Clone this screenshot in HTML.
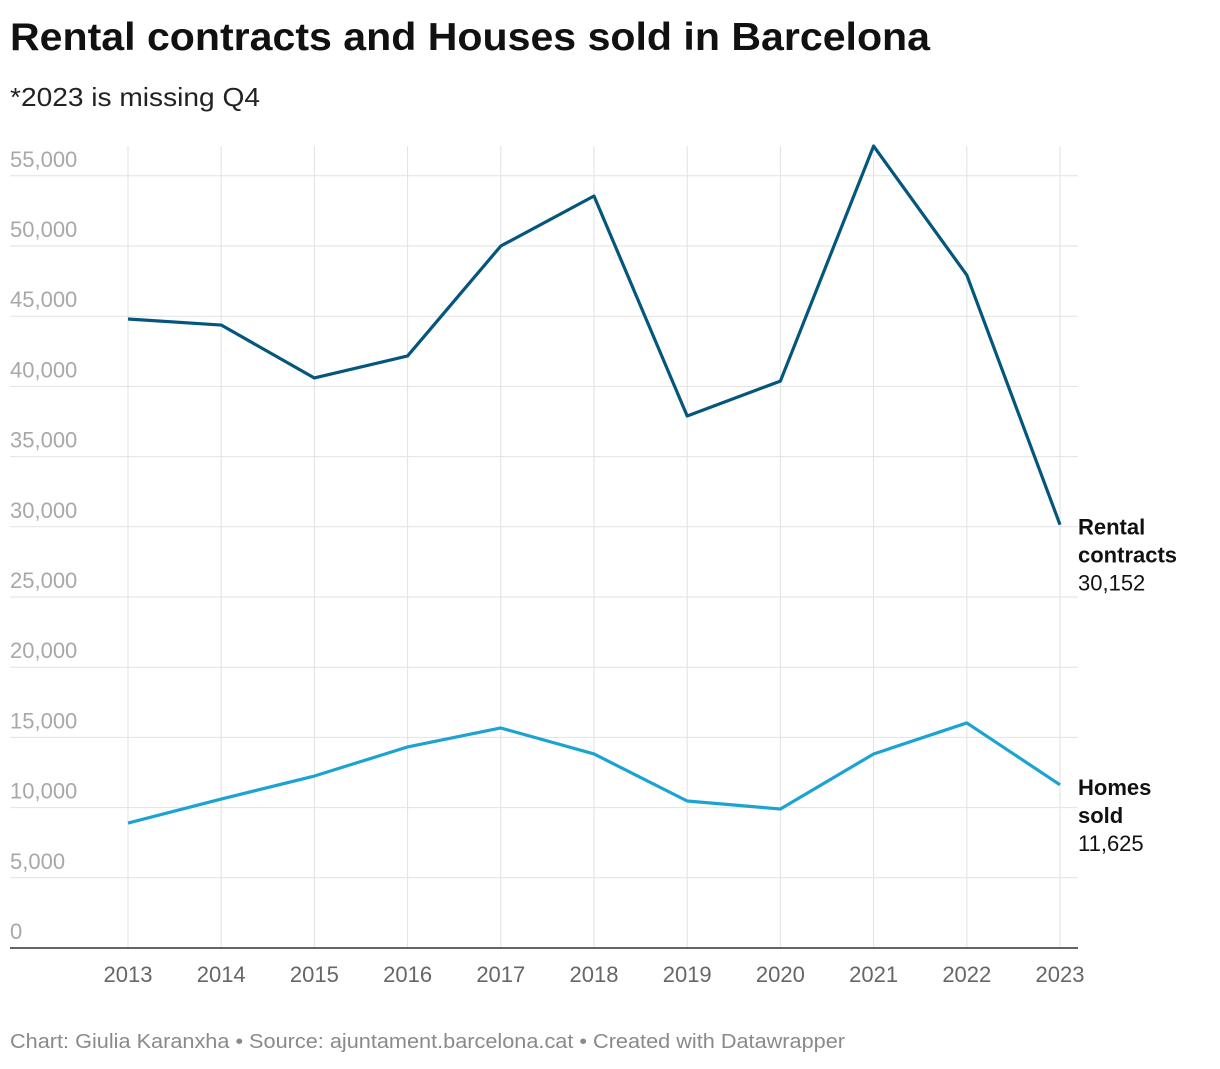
<!DOCTYPE html>
<html><head><meta charset="utf-8"><style>
body{margin:0;background:#fff;font-family:"Liberation Sans",sans-serif;}
svg text{font-family:"Liberation Sans",sans-serif;}
</style></head><body>
<svg id="chart" width="1220" height="1064">
<text x="10" y="50" font-size="39" font-weight="bold" fill="#111" textLength="920" lengthAdjust="spacingAndGlyphs">Rental contracts and Houses sold in Barcelona</text>
<text x="10" y="106" font-size="26" fill="#222" textLength="250" lengthAdjust="spacingAndGlyphs">*2023 is missing Q4</text>
<g id="grid"></g><g id="lines"></g><g id="labels"></g>
<text x="10" y="1048" font-size="20" fill="#8a8a8a" textLength="835" lengthAdjust="spacingAndGlyphs">Chart: Giulia Karanxha • Source: ajuntament.barcelona.cat • Created with Datawrapper</text>
</svg>
<script>
const years=[2013,2014,2015,2016,2017,2018,2019,2020,2021,2022,2023];
const rental=[44800,44370,40600,42170,50000,53560,37890,40380,57120,47930,30152];
const homes=[8900,10610,12250,14320,15670,13820,10470,9900,13820,16030,11625];
const yTicks=[0,5000,10000,15000,20000,25000,30000,35000,40000,45000,50000,55000];
const NS="http://www.w3.org/2000/svg";
const x=i=>128+i*93.2;
const y=v=>948-v*0.01404;
function mk(t,a,p){const e=document.createElementNS(NS,t);for(const k in a)e.setAttribute(k,a[k]);p.appendChild(e);return e;}
const g=document.getElementById('grid');
yTicks.forEach(v=>{
 if(v>0){const l=mk('line',{x1:10,x2:1078,y1:y(v),y2:y(v),stroke:'#e2e2e2','stroke-width':1},g);
 
 }
 const t=mk('text',{x:10,y:y(v)-9,'font-size':22,fill:'#a8a8a8'},g);
 t.textContent=v.toLocaleString('en-US');
 
 
});
years.forEach((yr,i)=>{
 const l=mk('line',{x1:x(i),x2:x(i),y1:146,y2:948,stroke:'#e2e2e2','stroke-width':1},g);
 
 
 const t=mk('text',{x:x(i),y:982,'font-size':22,fill:'#666','text-anchor':'middle'},g);
 t.textContent=yr;
 
 
});
const b=mk('line',{x1:10,x2:1078,y1:948,y2:948,stroke:'#333','stroke-width':1.5},g);


const L=document.getElementById('lines');
function series(d,c,n){
 const p=mk('polyline',{points:d.map((v,i)=>x(i)+','+y(v)).join(' '),fill:'none',stroke:c,'stroke-width':3.2,'stroke-linejoin':'round'},L);
 
 
}
series(rental,'#04567d','rental-contracts-line');
series(homes,'#1ca3d2','homes-sold-line');
const lab=document.getElementById('labels');
function label(lines,val,v,n){
 const t=mk('text',{x:1078,y:y(v)+10,'font-size':22,fill:'#111'},lab);
 
 
 lines.forEach((s,k)=>{const ts=mk('tspan',{x:1078,dy:k?28:0,'font-weight':'bold'},t);ts.textContent=s;});
 const ts=mk('tspan',{x:1078,dy:28},t);ts.textContent=val.toLocaleString('en-US');
}
label(['Rental','contracts'],rental[10],rental[10],'rental-contracts-label');
label(['Homes','sold'],homes[10],homes[10],'homes-sold-label');
</script>
</body></html>
